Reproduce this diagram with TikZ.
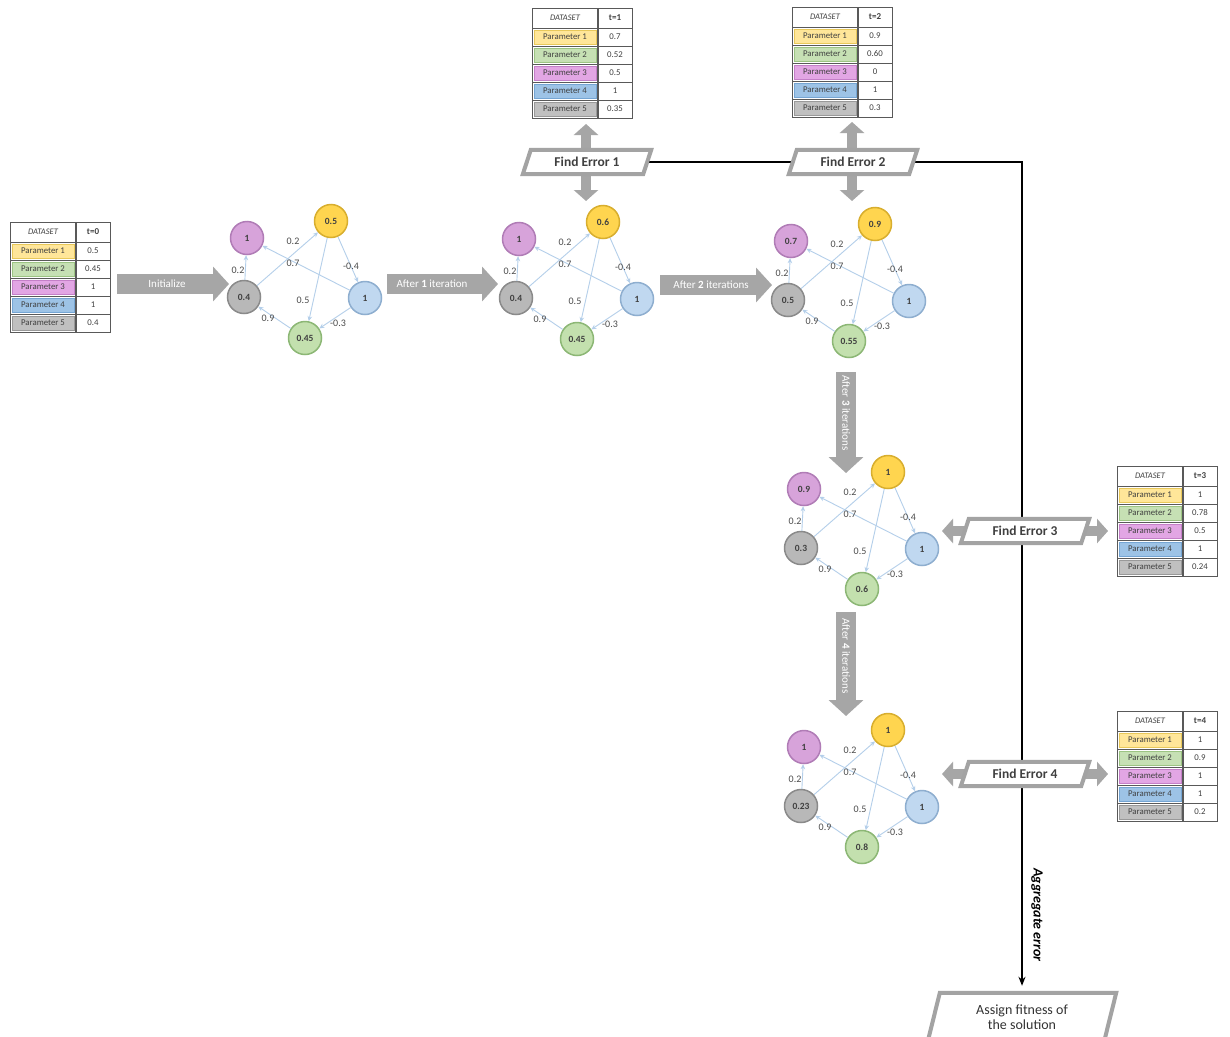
\documentclass[tikz,border=0pt]{standalone}
\usepackage{fontspec}
\setmainfont{Carlito}
\usetikzlibrary{arrows.meta}
\pgfdeclarelayer{back}
\pgfdeclarelayer{mid}
\pgfsetlayers{back,mid,main}
\definecolor{cP}{HTML}{D7A3DA}\definecolor{cPd}{HTML}{B07CB6}
\definecolor{cY}{HTML}{FFD54F}\definecolor{cYd}{HTML}{D8AE2E}
\definecolor{cG}{HTML}{B8B8B8}\definecolor{cGd}{HTML}{8A8A8A}
\definecolor{cB}{HTML}{C0D8F0}\definecolor{cBd}{HTML}{8EAECF}
\definecolor{cR}{HTML}{C3E0AE}\definecolor{cRd}{HTML}{8CB775}
\definecolor{edgec}{HTML}{B4CFEA}
\definecolor{agray}{HTML}{A6A6A6}
\definecolor{bgray}{HTML}{A3A3A3}
\definecolor{tY}{HTML}{FFE699}\definecolor{tYd}{HTML}{E8C85A}
\definecolor{tR}{HTML}{C6E0B4}\definecolor{tRd}{HTML}{9CC483}
\definecolor{tP}{HTML}{E2A6E4}\definecolor{tPd}{HTML}{C47FC8}
\definecolor{tB}{HTML}{9DC3E6}\definecolor{tBd}{HTML}{75A5D3}
\definecolor{tG}{HTML}{C0C0C0}\definecolor{tGd}{HTML}{999999}
\tikzset{
 cnode/.style={circle, minimum size=33pt, inner sep=0pt, line width=1.5pt, font=\fontsize{9.5}{10}\selectfont\bfseries, text=black!75},
 fedge/.style={draw=edgec, line width=0.9pt, -{Stealth[length=5pt,width=4.5pt]}},
 elab/.style={font=\fontsize{10}{11}\selectfont, text=black!70, inner sep=0pt},
 bigarrow/.style={draw=agray, line width=20pt, -{Triangle[length=16pt,width=34pt]}},
 dblarrow/.style={draw=agray, line width=10pt, {Triangle[length=11pt,width=24pt]}-{Triangle[length=11pt,width=24pt]}},
 atext/.style={text=white, font=\fontsize{11}{12}\selectfont, inner sep=0pt},
 fetext/.style={minimum width=120pt, minimum height=24pt, inner sep=0pt, font=\fontsize{13.5}{15}\selectfont\bfseries, text=black!75},
 pbox/.style={draw=bgray, fill=white, line width=4pt, line join=miter},
 blk/.style={draw=black, line width=2pt},
 tabline/.style={draw=black!65, line width=0.8pt},
 ttxt/.style={font=\fontsize{8.8}{9}\selectfont, text=black!75, inner sep=0pt},
}
\newcommand\fcmgraph[8]{%
\begin{scope}[shift={(#2,#3)}]
\node[cnode,fill=cP,draw=cPd] (#1P) at (247,238) {#4};
\node[cnode,fill=cY,draw=cYd] (#1Y) at (331,221) {#5};
\node[cnode,fill=cG,draw=cGd] (#1G) at (244,297) {#6};
\node[cnode,fill=cB,draw=cBd] (#1B) at (365,298) {#7};
\node[cnode,fill=cR,draw=cRd] (#1R) at (305,338) {#8};
\draw[fedge] (#1G) -- (#1P) node[elab] (#1la) at (238,270) {0.2};
\draw[fedge] (#1G) -- (#1Y) node[elab] (#1lb) at (293,241) {0.2};
\draw[fedge] (#1B) -- (#1P) node[elab] (#1lc) at (293,263) {0.7};
\draw[fedge] (#1Y) -- (#1B) node[elab] (#1ld) at (351,266) {-0.4};
\draw[fedge] (#1Y) -- (#1R) node[elab] (#1le) at (303,300) {0.5};
\draw[fedge] (#1B) -- (#1R) node[elab] (#1lf) at (338,323) {-0.3};
\draw[fedge] (#1R) -- (#1G) node[elab] (#1lg) at (268,318) {0.9};
\end{scope}}
\newcommand\dtab[9]{%
\begin{scope}[shift={(#2,#3)}]
\fill[white] (0,0) rectangle (100,110);
\foreach \c/\d [count=\i] in {tY/tYd,tR/tRd,tP/tPd,tB/tBd,tG/tGd}
  \filldraw[fill=\c,draw=\d,line width=0.6pt] (2,{20+18*(\i-1)+2}) rectangle (64,{20+18*\i-2});
\draw[tabline] (0,0) rectangle (100,110);
\foreach \yy in {20,38,56,74,92} \draw[tabline] (0,\yy) -- (100,\yy);
\draw[tabline,line width=1.2pt] (66,0) -- (66,110);
\node[ttxt,font=\fontsize{8.5}{9}\selectfont\itshape] (#1h) at (33,10) {DATASET};
\node[ttxt,font=\fontsize{9}{9}\selectfont\bfseries] (#1t) at (83,10) {#4};
\node[ttxt] (#1n1) at (33,29) {Parameter 1};\node[ttxt] (#1v1) at (83,29) {#5};
\node[ttxt] (#1n2) at (33,47) {Parameter 2};\node[ttxt] (#1v2) at (83,47) {#6};
\node[ttxt] (#1n3) at (33,65) {Parameter 3};\node[ttxt] (#1v3) at (83,65) {#7};
\node[ttxt] (#1n4) at (33,83) {Parameter 4};\node[ttxt] (#1v4) at (83,83) {#8};
\node[ttxt] (#1n5) at (33,101) {Parameter 5};\node[ttxt] (#1v5) at (83,101) {#9};
\end{scope}}
\newcommand\pgm[2]{%
\filldraw[pbox] ([xshift=-#2]#1.south west) -- ([xshift=#2]#1.north west) -- ([xshift=#2]#1.north east) -- ([xshift=-#2]#1.south east) -- cycle;}
\begin{document}
\begin{tikzpicture}[x=1pt,y=-1pt]
\useasboundingbox (0,0) rectangle (1230,1036);
\begin{pgfonlayer}{back}
\fill[white] (0,0) rectangle (1230,1036);
\end{pgfonlayer}
% tables
\dtab{ta}{10}{222}{t=0}{0.5}{0.45}{1}{1}{0.4}
\dtab{tb}{532}{8}{t=1}{0.7}{0.52}{0.5}{1}{0.35}
\dtab{tc}{792}{7}{t=2}{0.9}{0.60}{0}{1}{0.3}
\dtab{td}{1117}{466}{t=3}{1}{0.78}{0.5}{1}{0.24}
\dtab{te}{1117}{711}{t=4}{1}{0.9}{1}{1}{0.2}
% graphs
\fcmgraph{ga}{0}{0}{1}{0.5}{0.4}{1}{0.45}
\fcmgraph{gb}{272}{1}{1}{0.6}{0.4}{1}{0.45}
\fcmgraph{gc}{544}{3}{0.7}{0.9}{0.5}{1}{0.55}
\fcmgraph{gd}{557}{251}{0.9}{1}{0.3}{1}{0.6}
\fcmgraph{ge}{557}{509}{1}{1}{0.23}{1}{0.8}
% big arrows
\coordinate (i0s) at (117,284); \coordinate (i0e) at (229,284);
\coordinate (i1s) at (387,284); \coordinate (i1e) at (498,284);
\coordinate (i2s) at (660,285); \coordinate (i2e) at (772,285);
\coordinate (i3s) at (846,372); \coordinate (i3e) at (846,473);
\coordinate (i4s) at (846,612); \coordinate (i4e) at (846,716);
\draw[bigarrow] (i0s) -- (i0e) node[atext] (at0) at (167,284) {Initialize};
\draw[bigarrow] (i1s) -- (i1e) node[atext] (at1) at (432,284) {After \textbf{1} iteration};
\draw[bigarrow] (i2s) -- (i2e) node[atext] (at2) at (711,285) {After \textbf{2} iterations};
\draw[bigarrow] (i3s) -- (i3e) node[atext,rotate=-90] (at3) at (846,413) {After \textbf{3} iterations};
\draw[bigarrow] (i4s) -- (i4e) node[atext,rotate=-90] (at4) at (846,656) {After \textbf{4} iterations};
% find error boxes
\node[fetext] (fe1) at (587,162) {Find Error 1};
\node[fetext] (fe2) at (853,162) {Find Error 2};
\node[fetext] (fe3) at (1025,531) {Find Error 3};
\node[fetext] (fe4) at (1025,774) {Find Error 4};
\node[minimum width=176pt, minimum height=48pt, inner sep=0pt, align=center, font=\fontsize{14}{16}\selectfont, text=black!80] (fit) at (1022,1017) {Assign fitness of\\[-1pt]the solution};
\node[font=\fontsize{14}{15}\selectfont\bfseries\itshape, rotate=-90, inner sep=0pt] (agg) at (1037,915) {Aggregate error};
\begin{pgfonlayer}{mid}
\pgm{fe1}{4pt}\pgm{fe2}{4pt}\pgm{fe3}{4pt}\pgm{fe4}{4pt}\pgm{fit}{6pt}
\end{pgfonlayer}
\coordinate (u1) at (586,124); \coordinate (d1) at (586,201);
\coordinate (u2) at (852,122); \coordinate (d2) at (852,201);
\coordinate (l3) at (942,531); \coordinate (r3) at (1108,531);
\coordinate (l4) at (942,774); \coordinate (r4) at (1108,774);
\begin{pgfonlayer}{back}
\draw[dblarrow] (u1) -- (d1);
\draw[dblarrow] (u2) -- (d2);
\draw[dblarrow] (l3) -- (r3);
\draw[dblarrow] (l4) -- (r4);
\draw[blk] (fe1.east) -- (fe2.west);
\draw[blk,-{Stealth[length=9pt,width=7pt]},shorten >=7pt] (fe2.east) -| (fit.north);
\end{pgfonlayer}
\end{tikzpicture}
\end{document}
